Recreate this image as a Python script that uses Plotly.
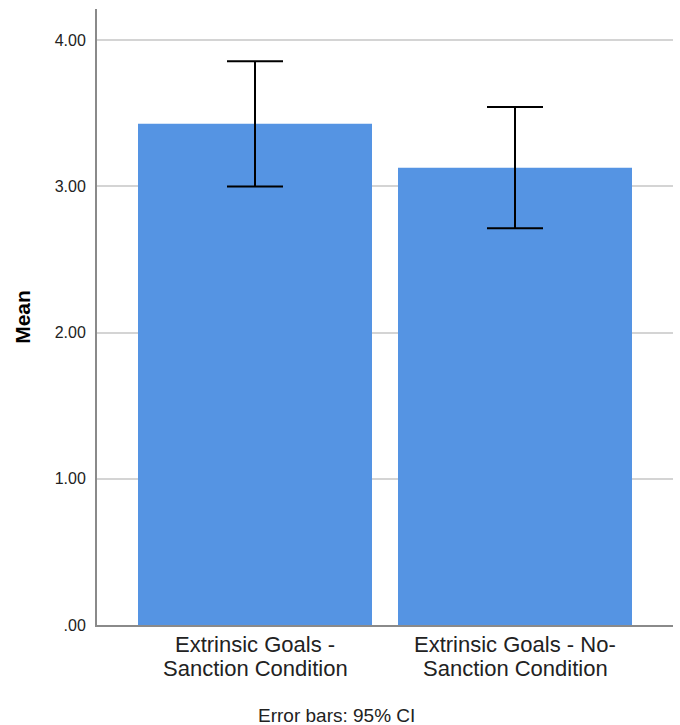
import plotly.graph_objects as go

# Group means with 95% confidence limits
categories = ["Extrinsic Goals -<br>Sanction Condition",
              "Extrinsic Goals - No-<br>Sanction Condition"]
means = [3.427, 3.127]
ci_upper = [3.855, 3.542]
ci_lower = [2.998, 2.713]
y_ticks = [0, 1, 2, 3, 4]
y_tick_labels = [".00", "1.00", "2.00", "3.00", "4.00"]

FONT = "Liberation Sans, Arial, sans-serif"
BAR_BLUE = "#5594E3"

err_plus = [u - m for u, m in zip(ci_upper, means)]
err_minus = [m - l for m, l in zip(means, ci_lower)]

fig = go.Figure(
    go.Bar(
        x=list(range(len(categories))),
        y=means,
        width=0.9,
        marker=dict(color=BAR_BLUE, line=dict(width=0)),
        error_y=dict(type="data", symmetric=False, array=err_plus,
                     arrayminus=err_minus, color="black",
                     thickness=2, width=28),
        hoverinfo="skip",
    )
)

# Two-line category labels drawn line by line for tighter spacing
for i, label in enumerate(categories):
    for j, line in enumerate(label.split("<br>")):
        fig.add_annotation(
            x=i, y=0, xref="x", yref="y", text=line, showarrow=False,
            xanchor="center", yanchor="top", yshift=-5 - 24 * j,
            font=dict(family=FONT, size=22, color="#222222"),
        )

fig.add_annotation(
    x=0.415, y=0, xref="paper", yref="paper", text="Error bars: 95% CI",
    showarrow=False, xanchor="center", yanchor="top", yshift=-78,
    font=dict(family=FONT, size=19, color="#222222"),
)

fig.update_layout(
    width=680, height=725,
    margin=dict(l=97, r=7, t=9, b=100),
    paper_bgcolor="white", plot_bgcolor="white",
    showlegend=False,
    xaxis=dict(range=[-0.6077, 1.6077], showticklabels=False,
               showgrid=False, zeroline=False, showline=True,
               linecolor="#8a8a8a", linewidth=2, ticks=""),
    yaxis=dict(range=[0, 4.212], tickvals=y_ticks, ticktext=y_tick_labels,
               tickfont=dict(family=FONT, size=16, color="#222222"),
               showgrid=True, gridcolor="#d4d4d4", gridwidth=2,
               zeroline=False, showline=True, linecolor="#8a8a8a",
               linewidth=2, ticks="", ticklabelstandoff=6,
               title=dict(text="<b>Mean</b>", standoff=18,
                          font=dict(family=FONT, size=21, color="black"))),
)

fig.write_html("out.html")
